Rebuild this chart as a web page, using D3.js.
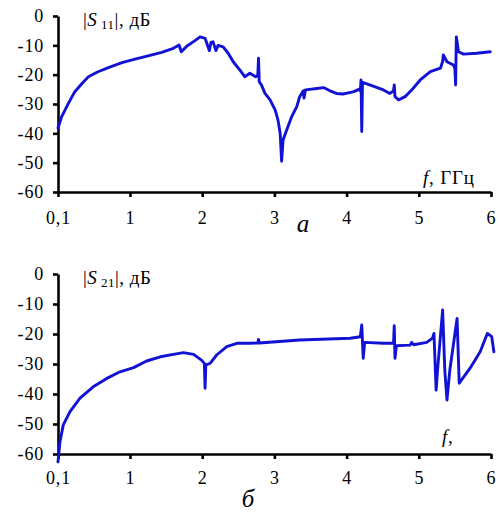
<!DOCTYPE html>
<html><head><meta charset="utf-8">
<script src="https://cdn.jsdelivr.net/npm/d3@7"></script>
<style>
html,body{margin:0;padding:0;background:#fff;}
svg{display:block;}
</style></head>
<body>
<svg id="c" width="500" height="513"></svg>
<script>
// ---- data ----
const xTickValues = [0.1, 1, 2, 3, 4, 5, 6];
const xTickLabels = ["0,1", "1", "2", "3", "4", "5", "6"];
const yTickValues = [0, -10, -20, -30, -40, -50, -60];

const s11F = [0.10,0.146,0.23,0.31,0.40,0.48,0.60,0.73,0.90,1.07,1.25,1.44,1.60,1.68,1.71,1.79,1.90,1.97,2.04,2.08,2.10,2.12,2.15,2.19,2.22,2.29,2.36,2.43,2.52,2.59,2.66,2.74,2.77,2.78,2.79,2.82,2.87,2.94,3.01,3.05,3.08,3.10,3.12,3.17,3.24,3.31,3.35,3.40,3.41,3.43,3.59,3.68,3.77,3.86,3.95,4.04,4.10,4.17,4.19,4.20,4.21,4.22,4.32,4.51,4.60,4.65,4.66,4.67,4.72,4.81,4.92,5.02,5.16,5.30,5.33,5.34,5.39,5.48,5.50,5.51,5.52,5.55,5.62,5.80,5.99];
const s11Db = [-38.2,-34.3,-29.8,-25.8,-23.0,-20.7,-19.0,-17.6,-15.9,-14.7,-13.6,-12.4,-11.0,-9.9,-12.2,-10.2,-8.4,-7.1,-7.6,-10.5,-11.8,-9.0,-8.8,-11.8,-10.0,-10.5,-12.7,-15.6,-18.4,-20.7,-19.5,-20.7,-20.2,-14.4,-22.4,-23.5,-26.4,-28.6,-32.0,-35.5,-40.0,-49.5,-42.3,-38.9,-34.3,-30.9,-27.5,-25.5,-28.0,-25.2,-24.7,-24.4,-25.5,-26.4,-26.6,-26.1,-25.8,-25.0,-25.5,-21.8,-39.4,-22.6,-23.5,-25.2,-26.4,-25.5,-23.5,-27.5,-28.6,-27.5,-24.7,-21.8,-19.0,-17.8,-15.5,-13.3,-15.6,-16.7,-18.0,-23.5,-7.1,-12.2,-13.0,-12.7,-12.2];

const s21F = [0.10,0.125,0.166,0.25,0.375,0.54,0.71,0.875,1.05,1.23,1.42,1.60,1.74,1.88,1.99,2.03,2.04,2.05,2.11,2.20,2.34,2.48,2.66,2.77,2.78,2.79,3.35,4.05,4.19,4.21,4.23,4.25,4.51,4.65,4.66,4.67,4.69,4.80,4.88,4.90,4.93,5.11,5.19,5.21,5.24,5.26,5.33,5.36,5.39,5.43,5.53,5.56,5.71,5.85,5.95,6.01,6.04];
const s21Db = [-62.6,-55.9,-50.3,-45.9,-41.4,-37.6,-34.8,-32.6,-31.2,-29.0,-27.6,-26.8,-26.2,-26.8,-28.7,-29.8,-38.1,-30.3,-29.8,-27.0,-24.2,-23.1,-23.1,-23.0,-21.8,-23.0,-22.0,-21.4,-20.9,-17.0,-28.1,-22.8,-23.1,-23.1,-17.2,-28.1,-23.9,-23.8,-23.7,-22.8,-23.6,-22.8,-21.4,-19.8,-38.7,-32.0,-12.0,-32.0,-42.0,-32.0,-14.8,-36.4,-31.4,-25.9,-19.8,-20.9,-25.9];

const svg = d3.select("#c");
const lineColor = "#1212d4";
const SERIF = "'Liberation Serif','Times New Roman',Times,serif";

function panel(top, bottom, fArr, dbArr, labelSub, xLabel, letter, letterX, letterY, xPad, xLabelX, xLabelY) {
  const x = d3.scaleLinear().domain([0.1, 1, 6]).range([58, 130, 491]);
  const y = d3.scaleLinear().domain([-60, 0]).range([bottom, top]);
  const g = svg.append("g");

  const yAxis = d3.axisLeft(y).tickValues(yTickValues).tickSize(5).tickSizeOuter(0).tickPadding(9)
    .tickFormat(d => d === 0 ? "0" : "-" + Math.abs(d));
  const ya = g.append("g").attr("transform", "translate(58,0)").call(yAxis);
  const xAxis = d3.axisBottom(x).tickValues(xTickValues).tickSize(5).tickSizeOuter(0).tickPadding(xPad)
    .tickFormat((d, i) => xTickLabels[i]);
  const xa = g.append("g").attr("transform", `translate(0,${bottom})`).call(xAxis);
  [ya, xa].forEach(a => {
    a.attr("font-family", SERIF).attr("font-size", 18);
    a.select(".domain").attr("stroke", "#000").attr("stroke-width", 2.6);
    a.selectAll(".tick line").attr("stroke", "#000").attr("stroke-width", 2.6);
    a.selectAll(".tick text").attr("fill", "#000").attr("font-size", 18).attr("font-family", SERIF)
      .attr("letter-spacing", 0.8);
  });

  const data = fArr.map((f, i) => [f, dbArr[i]]);
  g.append("path").datum(data)
    .attr("fill", "none").attr("stroke", lineColor).attr("stroke-width", 2.9)
    .attr("stroke-linejoin", "round").attr("stroke-linecap", "round")
    .attr("d", d3.line().x(d => x(d[0])).y(d => y(d[1])));

  // y title
  const t = g.append("text").attr("x", 83).attr("y", top + 10).attr("font-size", 19)
    .attr("font-family", SERIF).attr("letter-spacing", 0.5).attr("fill", "#000");
  t.append("tspan").text("|");
  t.append("tspan").attr("font-style", "italic").text("S");
  t.append("tspan").attr("dy", 3).attr("font-size", 13).text(" " + labelSub);
  t.append("tspan").attr("dy", -3).text("|, дБ");

  // x title
  const xt = g.append("text").attr("x", xLabelX).attr("y", xLabelY).attr("font-size", 19)
    .attr("font-family", SERIF).attr("letter-spacing", 0.8).attr("fill", "#000");
  xt.append("tspan").attr("font-style", "italic").text("f");
  xt.append("tspan").text(xLabel);

  g.append("text").attr("x", letterX).attr("y", letterY).attr("text-anchor", "middle")
    .attr("font-family", SERIF).attr("font-size", 25).attr("font-style", "italic").attr("fill", "#000").text(letter);
}

panel(16, 192, s11F, s11Db, "11", ",  ГГц", "а", 303, 232, 14, 423, 184);
panel(274, 454, s21F, s21Db, "21", ",", "б", 248, 507, 12, 442, 443);
</script>
</body></html>
